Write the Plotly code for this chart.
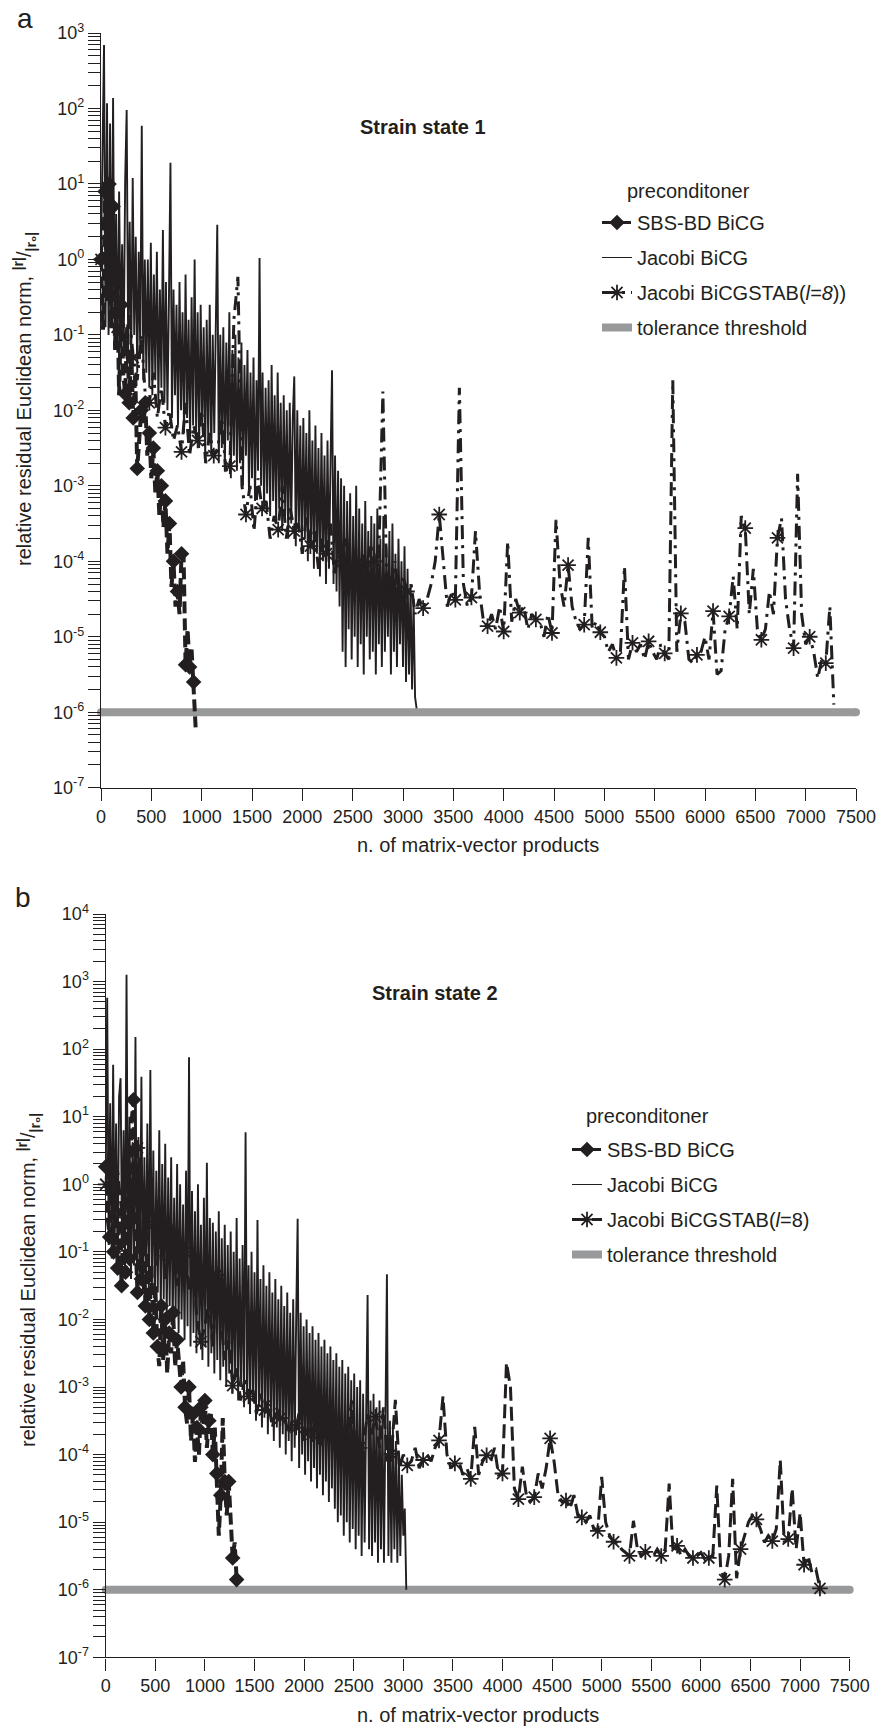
import numpy as np
import plotly.graph_objects as go

W, H = 880, 1729
INK = "#231f20"
GREY = "#98999b"
FONT = "Liberation Sans, Arial, Helvetica, sans-serif"

# ---------------- data -----------------------------------------------------
X_TICKS = list(range(0, 7501, 500))
X_RANGE = [0, 7500]
A_DECADES = list(range(-7, 4))
B_DECADES = list(range(-7, 5))
TOLERANCE = 1e-6
TOL_X = [0, 7500]

# matrix-vector products between two stored residuals
BICG_STEP = 15
SBS_STEP = 20
STAB_STEP = 40

# ---- panel a (strain state 1): log10 of relative residual ----
A_BICG_LOG = [
    0.0, 1.2, 2.84, -0.9, 2.07, -1.0, 1.8, -0.8, 2.14, -1.1,
    0.6, -1.2, 0.9, -1.0, 0.2, -1.3, 1.05, 1.98, -1.2, 0.5,
    -1.4, 1.08, -1.0, 0.3, -1.5, 0.1, -1.2, 1.77, -1.6, 0.0,
    -1.5, 0.0, -1.7, 0.22, -1.8, -0.2, -1.6, 0.1, -1.9, -0.4,
    -1.7, 0.39, -1.9, -0.3, -2.0, -0.5, 1.28, -2.1, -0.4, -1.8,
    -0.6, -2.2, -0.3, -2.0, -0.7, -2.3, -0.2, -2.1, -0.8, -2.4,
    -0.5, -2.2, 0.0, -2.3, -0.7, -2.5, -0.6, -2.2, -0.9, -2.6,
    -0.8, -2.4, -0.6, -2.6, -1.0, -2.3, -0.7, 0.46, -2.7, -1.0,
    -2.5, -0.9, -2.8, -1.1, -2.4, -0.7, -2.9, -1.2, -2.6, -1.0,
    -2.8, -1.3, -2.7, -1.1, -3.0, -1.4, -2.6, -1.2, -3.1, -1.5,
    -2.9, -1.3, -3.2, -1.6, -2.8, 0.02, -3.0, -1.5, -3.3, -1.7,
    -3.1, -1.6, -3.4, -1.4, -3.2, -1.8, -3.5, -1.5, -3.3, -1.9,
    -3.6, -1.8, -3.4, -2.0, -3.7, -1.9, -3.5, -2.1, -1.55, -3.8,
    -2.0, -3.6, -2.2, -3.9, -2.1, -3.7, -2.3, -4.0, -2.0, -3.8,
    -2.4, -4.1, -2.2, -3.9, -2.5, -4.2, -2.3, -4.0, -2.6, -4.3,
    -2.4, -4.1, -2.7, -1.47, -4.3, -2.6, -4.4, -2.8, -4.6, -2.9,
    -5.2, -3.0, -5.4, -3.2, -4.9, -3.1, -5.3, -3.4, -5.0, -3.0,
    -5.4, -3.3, -5.1, -3.5, -5.5, -3.2, -5.0, -3.6, -5.3, -3.4,
    -5.2, -3.5, -5.5, -3.3, -5.1, -3.7, -5.4, -3.4, -5.2, -3.8,
    -5.0, -3.6, -5.5, -3.5, -5.2, -3.9, -5.4, -3.7, -5.1, -4.0,
    -5.4, -3.8, -5.6, -4.1, -5.5, -4.3, -5.7, -4.5, -5.8, -5.95,
]
A_SBS_LOG = [
    0.0, -0.93, 0.9, -0.55, 1.0, -0.9, 0.7, -1.2, -0.3, -1.8,
    -0.6, -1.5, -1.78, -0.9, -1.9, -1.2, -2.1, -1.5, -2.77, -2.4,
    -2.0, -2.2, -1.9, -2.6, -2.3, -2.9, -2.5, -3.1, -2.8, -3.4,
    -3.0, -3.55, -3.2, -3.9, -3.5, -4.34, -4.0, -4.6, -4.4, -4.7,
    -3.9, -3.92, -5.37, -4.9, -5.4, -5.17, -5.6, -6.2,
]
A_STAB_LOG = [
    0.0, 0.8, -0.5, 0.3,
    -0.9, -0.3, -1.2, -0.7,
    -1.3, -1.6, -1.0, -1.8,
    -1.9, -1.5, -2.1, -1.7,
    -2.23, -2.0, -2.4, -2.2,
    -2.55, -1.9, -2.6, -2.2,
    -2.4, -2.0, -2.7, -2.3,
    -2.6, -2.5, -2.1, -2.8,
    -2.74, -0.8, -0.23, -3.0,
    -3.38, -3.0, -3.6, -2.9,
    -3.3, -3.2, -3.7, -3.4,
    -3.58, -3.0, -3.7, -3.3,
    -3.6, -3.5, -3.9, -3.4,
    -3.8, -3.6, -4.1, -3.7,
    -3.9, -3.5, -4.2, -3.8,
    -4.0, -3.7, -4.3, -3.9,
    -4.1, -3.9, -4.3, -3.8,
    -4.0, -3.9, -1.75, -4.4,
    -4.3, -4.0, -4.5, -4.2,
    -4.4, -4.3, -4.7, -4.5,
    -4.62, -4.5, -4.3, -4.0,
    -3.38, -4.0, -4.6, -4.4,
    -4.51, -1.7, -4.3, -4.6,
    -4.48, -3.6, -4.4, -4.8,
    -4.86, -4.7, -4.9, -4.6,
    -4.93, -3.74, -4.8, -4.5,
    -4.68, -4.6, -4.9, -4.7,
    -4.77, -4.8, -5.0, -4.7,
    -4.95, -3.45, -4.3, -4.6,
    -4.05, -4.6, -4.8, -4.9,
    -4.84, -3.69, -4.9, -4.8,
    -4.94, -5.0, -5.2, -5.1,
    -5.28, -5.2, -4.07, -5.3,
    -5.08, -5.2, -5.1, -5.3,
    -5.06, -5.2, -5.3, -5.1,
    -5.22, -5.3, -1.6, -5.2,
    -4.69, -4.8, -5.3, -5.35,
    -5.24, -5.2, -5.0, -5.3,
    -4.66, -5.5, -5.45, -4.9,
    -4.73, -4.2, -4.9, -3.4,
    -3.56, -4.7, -4.1, -4.9,
    -5.04, -4.9, -4.4, -4.7,
    -3.69, -3.43, -4.5, -4.9,
    -5.15, -2.84, -4.7, -5.1,
    -5.0, -5.2, -5.55, -5.3,
    -5.35, -4.6, -5.9,
]

# ---- panel b (strain state 2): log10 of relative residual ----
B_BICG_LOG = [
    0.0, 2.76, -0.9, 1.2, -1.1, 1.77, -0.8, 0.9, -1.2, 1.3,
    1.57, -1.0, 0.8, -1.3, 3.1, -1.1, 1.0, -1.4, 0.6, -1.2,
    2.18, -1.5, 0.7, -1.3, 1.59, -1.6, 0.4, -1.4, 0.9, -1.7,
    1.69, -1.5, 0.5, -1.8, 0.2, -1.6, 0.8, -1.9, 0.3, -1.7,
    0.6, -2.0, 0.1, -1.8, 0.4, -2.1, -0.2, -1.9, 0.3, -2.2,
    0.0, -2.0, -0.3, -2.3, 0.2, -2.1, 1.88, -2.4, -0.1, -2.2,
    -0.4, -2.5, 0.0, -2.3, -0.6, -2.6, -0.2, -2.4, 0.32, -2.7,
    -0.5, -2.5, -0.57, -2.8, -0.7, -2.6, -0.4, -2.9, -0.8, -2.7,
    -0.6, -3.0, -0.9, -2.8, -0.7, -3.1, -1.0, -2.9, -0.5, -3.2,
    -1.1, -3.0, -0.9, -3.3, 0.77, -3.1, -1.2, -3.4, -1.0, -3.2,
    -1.3, -3.5, -0.53, -3.3, -1.4, -3.6, -1.2, -3.4, -1.5, -3.7,
    -1.3, -3.5, -1.6, -3.8, -1.4, -3.6, -1.7, -3.9, -1.5, -3.7,
    -1.8, -4.0, -1.6, -3.8, -1.9, -4.1, -1.7, -3.9, -2.0, -0.51,
    -4.2, -1.9, -4.0, -2.1, -4.3, -2.0, -4.1, -2.2, -4.4, -2.1,
    -4.2, -2.3, -4.5, -2.2, -4.3, -2.4, -4.6, -2.3, -4.4, -2.5,
    -4.7, -2.4, -4.5, -2.6, -4.8, -2.5, -5.0, -2.7, -4.9, -2.6,
    -5.2, -2.8, -5.0, -2.7, -5.3, -2.9, -5.1, -2.8, -5.4, -3.0,
    -5.2, -2.9, -5.5, -3.1, -5.3, -3.0, -1.64, -5.4, -3.2, -5.5,
    -3.1, -5.3, -3.3, -5.6, -3.2, -5.4, -3.4, -5.6, -3.3, -1.33,
    -5.5, -3.5, -5.6, -3.6, -5.4, -3.8, -5.6, -4.0, -5.5, -4.3,
    -5.2, -4.8, -6.0,
]
B_SBS_LOG = [
    0.26, -0.5, -0.78, 0.3, -1.0, 0.07, -1.24, -0.4, -1.5, -0.2,
    -1.3, 0.4, -1.1, 0.9, 1.25, -0.8, -1.6, -0.5, -1.4, -0.6,
    -1.8, -1.0, -2.0, -1.2, -2.2, -1.5, -2.4, -2.69, -1.8, -2.6,
    -2.0, -2.8, -2.2, -2.5, -1.9, -2.7, -2.3, -2.59, -3.0, -2.6,
    -3.3, -3.54, -3.0, -3.8, -3.4, -4.11, -3.6, -4.0, -3.3, -3.7,
    -3.2, -3.9, -3.5, -3.4, -4.0, -3.6, -4.28, -5.2, -4.6, -3.46,
    -4.4, -4.9, -4.4, -5.13, -5.53, -5.3, -5.85,
]
B_STAB_LOG = [
    0.0, 0.6, -0.7, 0.2,
    -0.4, -0.9, 0.3, -0.5,
    0.54, 0.2, -1.0, -0.3,
    -0.6, -1.2, -0.5, -1.4,
    -0.8, -0.6, -1.5, -0.9,
    -1.0, -1.6, -1.2, -2.0,
    -2.33, -2.1, -1.7, -2.4,
    -1.34, -2.0, -2.6, -2.3,
    -2.98, -2.7, -3.2, -2.9,
    -3.14, -3.0, -3.4, -3.1,
    -3.34, -3.2, -3.6, -3.3,
    -3.46, -3.4, -3.7, -3.5,
    -3.6, -3.3, -3.8, -3.6,
    -3.7, -3.5, -3.9, -3.6,
    -3.69, -3.6, -4.0, -3.7,
    -3.8, -3.7, -3.2, -3.95,
    -3.9, -3.8, -3.4, -3.7,
    -3.44, -3.9, -3.3, -4.1,
    -3.99, -3.19, -4.2, -4.0,
    -4.16, -4.1, -3.9, -4.2,
    -4.08, -4.0, -4.1, -3.9,
    -3.79, -3.14, -4.0, -4.2,
    -4.13, -4.1, -4.3, -4.2,
    -4.36, -3.59, -4.3, -4.1,
    -4.01, -4.1, -3.9, -4.3,
    -4.28, -2.64, -3.0, -4.5,
    -4.66, -4.18, -4.6, -4.7,
    -4.63, -4.28, -4.5, -4.2,
    -3.76, -4.1, -4.6, -4.7,
    -4.68, -4.8, -4.6, -4.9,
    -4.93, -5.0, -4.9, -5.1,
    -5.13, -4.33, -5.0, -5.2,
    -5.29, -5.3, -5.4, -5.45,
    -5.50, -4.98, -5.4, -5.5,
    -5.44, -5.45, -5.5, -5.4,
    -5.50, -5.4, -4.43, -5.45,
    -5.35, -5.5, -5.4, -5.5,
    -5.53, -5.5, -5.45, -5.55,
    -5.53, -5.5, -4.46, -5.7,
    -5.85, -5.5, -4.36, -5.83,
    -5.4, -5.2, -5.0, -4.9,
    -4.96, -5.1, -5.3, -5.2,
    -5.28, -5.1, -4.08, -5.3,
    -5.25, -4.5, -5.4, -4.86,
    -5.63, -5.5, -5.75, -5.7,
    -5.98,
]

LEGEND_NAMES_A = ["SBS-BD BiCG", "Jacobi BiCG", "Jacobi BiCGSTAB(<i>l=8</i>))", "tolerance threshold"]
LEGEND_NAMES_B = ["SBS-BD BiCG", "Jacobi BiCG", "Jacobi BiCGSTAB(<i>l</i>=8)", "tolerance threshold"]

# ---------------- style ----------------------------------------------------
SBS_MARK_EVERY = 2
STAB_MARK_EVERY = 4
SBS_DASH = "12px,5px"
STAB_DASH = {"a": "14px,6px,3px,6px", "b": "14px,6px"}


def series(logs, step):
    y = 10.0 ** np.asarray(logs, dtype=float)
    x = np.arange(len(y)) * step
    return x, y


fig = go.Figure()

ASTER = dict(symbol="asterisk-open", size=13, color=INK, line=dict(color=INK, width=1.8))
DIAM = dict(symbol="diamond", size=12, color=INK, line=dict(width=0))


def add_panel(tag, xa, ya, bicg, sbs, stab, names, legend_id):
    # tolerance threshold
    fig.add_trace(go.Scatter(
        x=TOL_X, y=[TOLERANCE, TOLERANCE], mode="lines+markers",
        line=dict(color=GREY, width=8), marker=dict(size=8, color=GREY),
        xaxis=xa, yaxis=ya, showlegend=False, cliponaxis=False, hoverinfo="skip"))
    # Jacobi BiCG
    x, y = series(bicg, BICG_STEP)
    fig.add_trace(go.Scatter(x=x, y=y, mode="lines", line=dict(color=INK, width=1.9),
                             xaxis=xa, yaxis=ya, showlegend=False))
    # Jacobi BiCGSTAB
    x, y = series(stab, STAB_STEP)
    fig.add_trace(go.Scatter(x=x, y=y, mode="lines",
                             line=dict(color=INK, width=3, dash=STAB_DASH[tag]),
                             xaxis=xa, yaxis=ya, showlegend=False))
    fig.add_trace(go.Scatter(x=x[::STAB_MARK_EVERY], y=y[::STAB_MARK_EVERY], mode="markers",
                             marker=ASTER, xaxis=xa, yaxis=ya, showlegend=False,
                             cliponaxis=False))
    # SBS-BD BiCG
    x, y = series(sbs, SBS_STEP)
    fig.add_trace(go.Scatter(x=x, y=y, mode="lines",
                             line=dict(color=INK, width=4, dash=SBS_DASH),
                             xaxis=xa, yaxis=ya, showlegend=False))
    fig.add_trace(go.Scatter(x=x[::SBS_MARK_EVERY], y=y[::SBS_MARK_EVERY], mode="markers",
                             marker=DIAM, xaxis=xa, yaxis=ya, showlegend=False,
                             cliponaxis=False))
    # legend entries
    entries = [
        dict(mode="lines+markers", line=dict(color=INK, width=3, dash=SBS_DASH), marker=DIAM),
        dict(mode="lines", line=dict(color=INK, width=1)),
        dict(mode="lines+markers", line=dict(color=INK, width=3, dash=STAB_DASH[tag]),
             marker=ASTER),
        dict(mode="lines", line=dict(color=GREY, width=8)),
    ]
    for i, (nm, e) in enumerate(zip(names, entries)):
        fig.add_trace(go.Scatter(x=[None], y=[None], name=nm, xaxis=xa, yaxis=ya,
                                 legend=legend_id, legendgroup=f"{tag}{i}", **e))


add_panel("a", "x", "y", A_BICG_LOG, A_SBS_LOG, A_STAB_LOG, LEGEND_NAMES_A, "legend")
add_panel("b", "x2", "y2", B_BICG_LOG, B_SBS_LOG, B_STAB_LOG, LEGEND_NAMES_B, "legend2")


def px_x(p):
    return p / W


def px_y(p):
    return 1 - p / H


def yaxis_cfg(decades, top_px, bottom_px, anchor):
    minor = [m * 10.0 ** k for k in decades[:-1] for m in range(2, 10)]
    return dict(
        type="log", range=[decades[0], decades[-1]],
        domain=[px_y(bottom_px), px_y(top_px)], anchor=anchor,
        tickmode="array", tickvals=[10.0 ** k for k in decades],
        ticktext=[f"10<sup>{k}</sup>" for k in decades],
        ticks="outside", ticklen=12, tickwidth=1.3, tickcolor=INK,
        minor=dict(tickmode="array", tickvals=minor, ticks="outside", ticklen=12,
                   tickwidth=1.1, tickcolor=INK, showgrid=False),
        showline=True, linecolor=INK, linewidth=1.4, showgrid=False, zeroline=False,
        tickfont=dict(family=FONT, size=18, color=INK), automargin=False,
    )


def xaxis_cfg(left_px, right_px, anchor):
    return dict(
        range=X_RANGE, domain=[px_x(left_px), px_x(right_px)], anchor=anchor,
        tickmode="array", tickvals=X_TICKS, ticks="outside", ticklen=12,
        tickwidth=1.3, tickcolor=INK, showline=True, linecolor=INK, linewidth=1.4,
        showgrid=False, zeroline=False,
        tickfont=dict(family=FONT, size=18, color=INK), automargin=False,
    )


def ann(text, x, y, size=20, xanchor="center", yanchor="middle", angle=0):
    return dict(text=text, x=px_x(x), y=px_y(y), xref="paper", yref="paper",
                xanchor=xanchor, yanchor=yanchor, showarrow=False, textangle=angle,
                font=dict(family=FONT, size=size, color=INK))


YTITLE = ("relative residual Euclidean norm, <b><sup>|r|</sup></b>/"
          "<b><sub>|r\u2080|</sub></b>")
XTITLE = "n. of matrix-vector products"

legend_common = dict(
    xanchor="left", yanchor="top", bgcolor="rgba(0,0,0,0)", borderwidth=0,
    font=dict(family=FONT, size=20, color=INK), tracegroupgap=6,
)

fig.update_layout(
    width=W, height=H, margin=dict(l=0, r=0, t=0, b=0),
    paper_bgcolor="white", plot_bgcolor="white",
    xaxis=xaxis_cfg(101, 856, "y"),
    yaxis=yaxis_cfg(A_DECADES, 33, 787.7, "x"),
    xaxis2=xaxis_cfg(105.7, 849.7, "y2"),
    yaxis2=yaxis_cfg(B_DECADES, 914, 1657.3, "x2"),
    legend=dict(x=px_x(597), y=px_y(203), **legend_common),
    legend2=dict(x=px_x(567), y=px_y(1130), **legend_common),
    annotations=[
        ann("a", 25, 18, size=28),
        ann("b", 23, 897, size=28),
        ann("<b>Strain state 1</b>", 358, 127, xanchor="left"),
        ann("<b>Strain state 2</b>", 370, 993, xanchor="left"),
        ann("preconditoner", 688, 191),
        ann("preconditoner", 647, 1116),
        ann(YTITLE, 24, 399, angle=-90),
        ann(YTITLE, 28, 1280, angle=-90),
        ann(XTITLE, 478.5, 845),
        ann(XTITLE, 477.7, 1715),
    ],
)

fig.write_html(
    "out.html",
    config={"displayModeBar": False},
    post_script="document.body.style.margin='0';document.body.style.overflow='hidden';",
)
